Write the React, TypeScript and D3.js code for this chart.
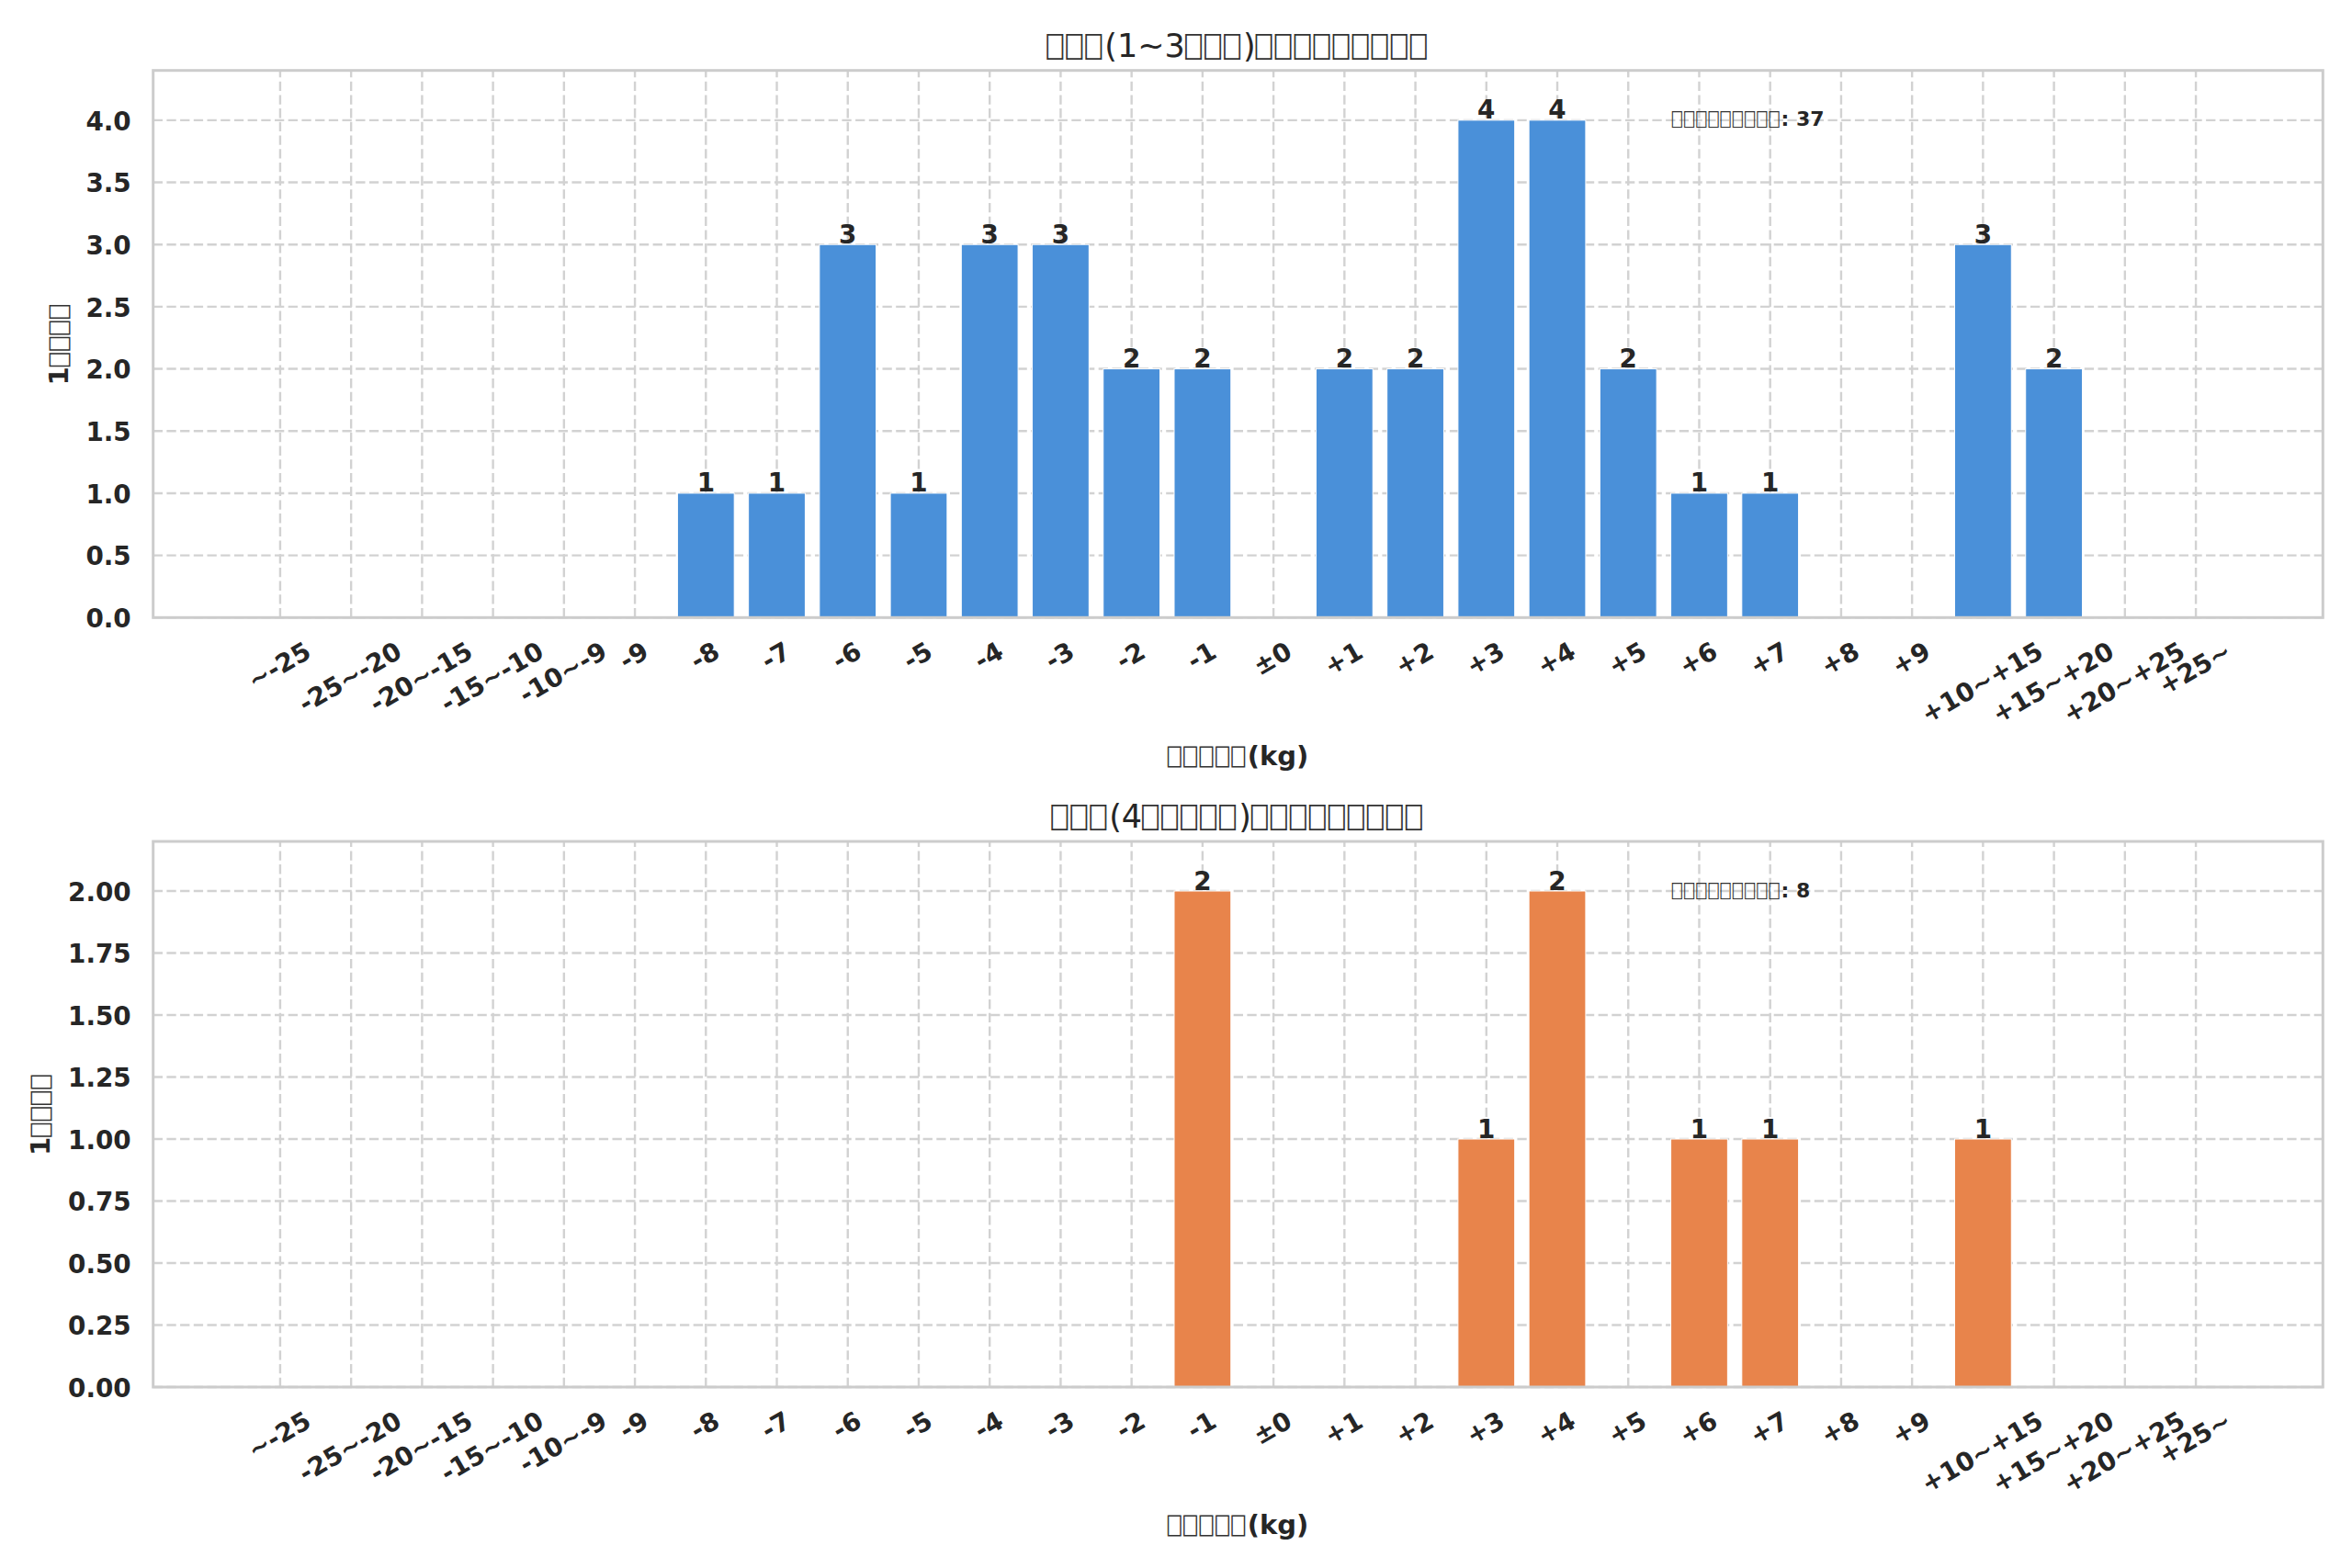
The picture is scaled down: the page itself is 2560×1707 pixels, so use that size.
import { useEffect, useRef } from "react";
import * as d3 from "d3";

const W = 2560, H = 1707;
const AX_LEFT = 166.7, AX_RIGHT = 2528.3;
const X_MIN = -1.79, X_MAX = 28.79;
const TEXT = "#262626";
const FONT = "'DejaVu Sans', sans-serif";

const CATEGORIES = [
  "~-25", "-25~-20", "-20~-15", "-15~-10", "-10~-9", "-9", "-8", "-7", "-6", "-5",
  "-4", "-3", "-2", "-1", "±0", "+1", "+2", "+3", "+4", "+5",
  "+6", "+7", "+8", "+9", "+10~+15", "+15~+20", "+20~+25", "+25~",
];
const BEGINNER = [0, 0, 0, 0, 0, 0, 1, 1, 3, 1, 3, 3, 2, 2, 0, 2, 2, 4, 4, 2, 1, 1, 0, 0, 3, 2, 0, 0];
const REGULAR  = [0, 0, 0, 0, 0, 0, 0, 0, 0, 0, 0, 0, 0, 2, 0, 0, 0, 1, 2, 0, 1, 1, 0, 0, 1, 0, 0, 0];
const TICKS_TOP = [0, 0.5, 1, 1.5, 2, 2.5, 3, 3.5, 4];
const TICKS_BOTTOM = [0, 0.25, 0.5, 0.75, 1, 1.25, 1.5, 1.75, 2];

// matplotlib drew these glyphs as missing-glyph boxes
const TITLE_TOP = "□□□(1~3□□□)□□□□□□□□□";
const TITLE_BOTTOM = "□□□(4□□□□□)□□□□□□□□□";
const X_LABEL = "□□□□□(kg)";
const Y_LABEL = "1□□□□";
const TOTAL_LABEL = "□□□□□□□□□";

interface Panel {
  values: number[]; color: string; ticks: number[]; fmt: string;
  title: string; top: number; bottom: number;
}

const PANELS: Panel[] = [
  { values: BEGINNER, color: "#4a90d9", ticks: TICKS_TOP, fmt: ".1f", title: TITLE_TOP, top: 76.7, bottom: 672.3 },
  { values: REGULAR, color: "#e8844b", ticks: TICKS_BOTTOM, fmt: ".2f", title: TITLE_BOTTOM, top: 916, bottom: 1510 },
];

type Sel = d3.Selection<SVGTextElement, unknown, null, undefined>;

function rich(t: Sel, str: string) {
  str.split(/(□+)/).filter(s => s.length).forEach(part => {
    if (part[0] === "□") {
      t.append("tspan").attr("font-family", "'DejaVu Sans Mono', monospace")
        .attr("font-weight", 400).attr("fill", "#333")
        .attr("font-size", "0.86em").attr("letter-spacing", "0.096em")
        .text("⎕".repeat(part.length));
    } else {
      t.append("tspan").text(part);
    }
  });
}

export default function App() {
  const ref = useRef<SVGSVGElement>(null);

  useEffect(() => {
    if (!ref.current) return;
    document.body.style.margin = "0";
    const svg = d3.select(ref.current);
    svg.selectAll("*").remove();
    svg.append("rect").attr("width", W).attr("height", H).attr("fill", "white");

    const x = d3.scaleLinear().domain([X_MIN, X_MAX]).range([AX_LEFT, AX_RIGHT]);
    const barW = x(0.4) - x(-0.4);
    const cx = (AX_LEFT + AX_RIGHT) / 2;

    PANELS.forEach(p => {
      const maxV = d3.max(p.values) ?? 1;
      const y = d3.scaleLinear().domain([0, maxV * 1.1]).range([p.bottom, p.top]);
      const g = svg.append("g").attr("font-family", FONT).attr("fill", TEXT);

      // grid
      g.append("g").selectAll("line").data(p.ticks).join("line")
        .attr("x1", AX_LEFT).attr("x2", AX_RIGHT)
        .attr("y1", d => y(d)).attr("y2", d => y(d))
        .attr("stroke", "#d2d2d2").attr("stroke-width", 2.4).attr("stroke-dasharray", "10.3,4.4");
      g.append("g").selectAll("line").data(CATEGORIES).join("line")
        .attr("x1", (_, i) => x(i)).attr("x2", (_, i) => x(i))
        .attr("y1", p.bottom).attr("y2", p.top)
        .attr("stroke", "#d2d2d2").attr("stroke-width", 2.4).attr("stroke-dasharray", "10.3,4.4");

      const bars = p.values.map((v, i) => ({ v, i })).filter(d => d.v > 0);
      g.append("g").selectAll("rect").data(bars).join("rect")
        .attr("x", d => x(d.i) - barW / 2).attr("width", barW)
        .attr("y", d => y(d.v)).attr("height", d => y(0) - y(d.v))
        .attr("fill", p.color).attr("stroke", "white").attr("stroke-width", 1);

      g.append("rect").attr("x", AX_LEFT).attr("y", p.top)
        .attr("width", AX_RIGHT - AX_LEFT).attr("height", p.bottom - p.top)
        .attr("fill", "none").attr("stroke", "#cccccc").attr("stroke-width", 3);

      // bar value labels
      g.append("g").selectAll("text").data(bars).join("text")
        .attr("x", d => x(d.i)).attr("y", d => y(d.v) - 1.5)
        .attr("text-anchor", "middle").attr("font-size", 27.8).attr("font-weight", "bold")
        .text(d => String(d.v));

      // y ticks
      const fmt = d3.format(p.fmt);
      let maxTickW = 0;
      p.ticks.forEach(t => {
        const tx = g.append("text").attr("x", AX_LEFT - 24).attr("y", y(t)).attr("dy", "0.39em")
          .attr("text-anchor", "end").attr("font-size", 27.8).attr("font-weight", "bold")
          .text(fmt(t));
        maxTickW = Math.max(maxTickW, (tx.node() as SVGTextElement).getComputedTextLength());
      });

      // x ticks, rotated 30° and centred like matplotlib
      CATEGORIES.forEach((c, i) => {
        const tx = g.append("text").attr("text-anchor", "middle")
          .attr("font-size", 27.8).attr("font-weight", "bold").attr("dy", "0.26em").text(c);
        const w = (tx.node() as SVGTextElement).getComputedTextLength();
        const hb = w * 0.5 + 27.8 * Math.cos(Math.PI / 6);
        tx.attr("transform", `translate(${x(i)},${p.bottom + 24 + hb / 2}) rotate(-30)`);
      });

      // axis labels
      const ylx = AX_LEFT - 24 - maxTickW - 14 - 14.5;
      const yl = g.append("text").attr("text-anchor", "middle").attr("font-size", 29)
        .attr("font-weight", "bold").attr("dy", "0.3em")
        .attr("transform", `translate(${ylx},${(p.top + p.bottom) / 2}) rotate(-90)`);
      rich(yl, Y_LABEL);
      const xl = g.append("text").attr("x", cx).attr("y", p.bottom + 151).attr("dy", "0.32em")
        .attr("text-anchor", "middle").attr("font-size", 29).attr("font-weight", "bold");
      rich(xl, X_LABEL);

      const title = g.append("text").attr("x", cx).attr("y", p.top - 15)
        .attr("text-anchor", "middle").attr("font-size", 35);
      rich(title, p.title);

      const total = g.append("text").attr("x", AX_LEFT + 0.7 * (AX_RIGHT - AX_LEFT))
        .attr("y", y(maxV)).attr("dy", "0.3em")
        .attr("font-size", 22).attr("font-weight", "bold");
      rich(total, `${TOTAL_LABEL}: ${d3.sum(p.values)}`);
    });
  }, []);

  return <svg ref={ref} width={W} height={H} style={{ display: "block" }} />;
}
